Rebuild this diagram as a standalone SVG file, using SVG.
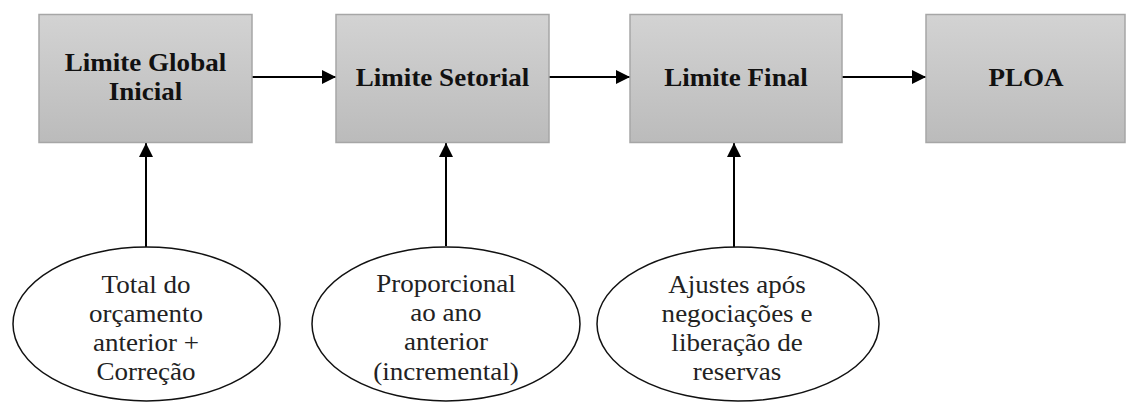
<svg xmlns="http://www.w3.org/2000/svg" width="1126" height="403" viewBox="0 0 1126 403">
  <style>
    .box { stroke: #a6a6a6; stroke-width: 1.5; fill: url(#boxFill); }
    .oval { fill: #ffffff; stroke: #111111; stroke-width: 1.5; }
    .title { font-family: "Liberation Serif", "Times New Roman", serif; font-weight: bold; font-size: 25.5px; fill: #111111; text-anchor: middle; }
    .note { font-family: "Liberation Serif", "Times New Roman", serif; font-size: 25.5px; fill: #222222; text-anchor: middle; }
    .link { stroke: #000000; stroke-width: 2; fill: none; marker-end: url(#head); }
  </style>
  <defs>
    <linearGradient id="boxFill" x1="0" y1="0" x2="0" y2="1">
      <stop offset="0" stop-color="#d3d3d3"/>
      <stop offset="1" stop-color="#bbbbbb"/>
    </linearGradient>
    <marker id="head" viewBox="0 0 10 10" refX="10" refY="5" markerWidth="7.5" markerHeight="7" markerUnits="strokeWidth" orient="auto">
      <path d="M0,0 L10,5 L0,10 Z" fill="#000000"/>
    </marker>
  </defs>

  <rect width="1126" height="403" fill="#ffffff"/>

  <!-- connectors -->
  <g id="connectors">
    <line class="link" x1="252" y1="77" x2="336" y2="77"/>
    <line class="link" x1="549" y1="77" x2="630" y2="77"/>
    <line class="link" x1="842" y1="77" x2="926" y2="77"/>
    <line class="link" x1="146" y1="247" x2="146" y2="143"/>
    <line class="link" x1="446" y1="246" x2="446" y2="143"/>
    <line class="link" x1="734" y1="247" x2="734" y2="143"/>
  </g>

  <!-- process stages (labels slightly widened) -->
  <g id="limite-global-inicial">
    <rect class="box" x="39" y="14.5" width="213" height="128"/>
    <g transform="translate(145.5 0) scale(1.06 1)">
      <text class="title" x="0" y="71.5">Limite Global</text>
      <text class="title" x="0" y="100">Inicial</text>
    </g>
  </g>
  <g id="limite-setorial">
    <rect class="box" x="336" y="14.5" width="213" height="128"/>
    <g transform="translate(442.5 0) scale(1.06 1)">
      <text class="title" x="0" y="86">Limite Setorial</text>
    </g>
  </g>
  <g id="limite-final">
    <rect class="box" x="630" y="14.5" width="212" height="128"/>
    <g transform="translate(736 0) scale(1.06 1)">
      <text class="title" x="0" y="86">Limite Final</text>
    </g>
  </g>
  <g id="ploa">
    <rect class="box" x="926" y="14.5" width="199" height="128"/>
    <g transform="translate(1026 0) scale(1.06 1)">
      <text class="title" x="0" y="86">PLOA</text>
    </g>
  </g>

  <!-- inputs -->
  <g id="total-orcamento">
    <ellipse class="oval" cx="146.5" cy="324" rx="133.5" ry="77"/>
    <g transform="translate(146 0) scale(1.06 1)">
      <text class="note" x="0" y="293">Total do</text>
      <text class="note" x="0" y="322">orçamento</text>
      <text class="note" x="0" y="351">anterior +</text>
      <text class="note" x="0" y="380">Correção</text>
    </g>
  </g>
  <g id="proporcional">
    <ellipse class="oval" cx="446" cy="324" rx="134" ry="77"/>
    <g transform="translate(446 0) scale(1.06 1)">
      <text class="note" x="0" y="292">Proporcional</text>
      <text class="note" x="0" y="321">ao ano</text>
      <text class="note" x="0" y="350">anterior</text>
      <text class="note" x="0" y="380">(incremental)</text>
    </g>
  </g>
  <g id="ajustes">
    <ellipse class="oval" cx="738" cy="324" rx="141" ry="77"/>
    <g transform="translate(737 0) scale(1.06 1)">
      <text class="note" x="0" y="293">Ajustes após</text>
      <text class="note" x="0" y="322">negociações e</text>
      <text class="note" x="0" y="351">liberação de</text>
      <text class="note" x="0" y="380">reservas</text>
    </g>
  </g>
</svg>
